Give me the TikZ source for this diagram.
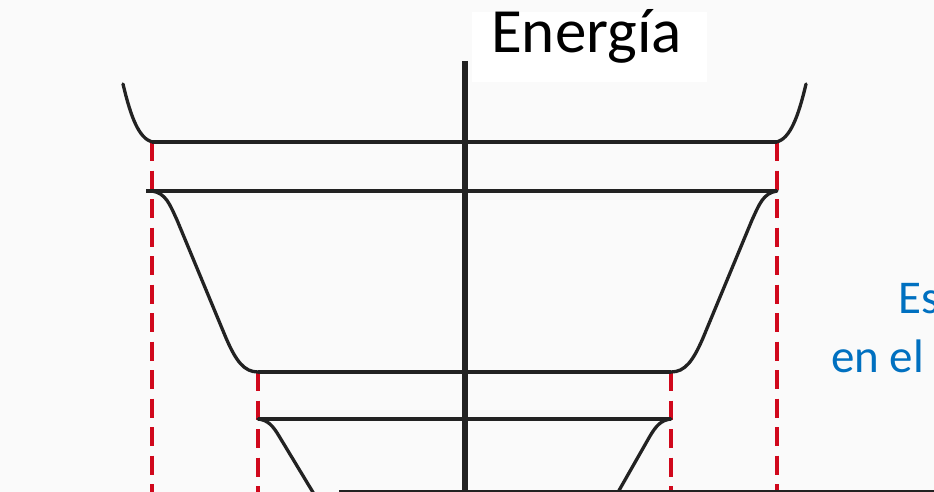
\documentclass[tikz,border=0pt]{standalone}
\usepackage{fontspec}
\setmainfont{Carlito}
\usetikzlibrary{positioning}
\definecolor{bggray}{RGB}{250,250,250}
\definecolor{wellblack}{RGB}{34,34,34}
\definecolor{guidered}{RGB}{208,8,28}
\definecolor{noteblue}{RGB}{0,112,192}

\begin{document}
\begin{tikzpicture}[
    x=1pt, y=-1pt,
    well/.style={draw=wellblack, line width=3.3pt, line cap=round, line join=round},
    level/.style={draw=wellblack, line width=4pt},
    guide/.style={draw=guidered, line width=3.3pt, dash pattern=on 19pt off 9.5pt},
    axisline/.style={draw=wellblack, line width=6.5pt},
    note/.style={anchor=base west, inner sep=0pt, text=noteblue,
                 font=\fontsize{47}{52}\selectfont}
]
  \useasboundingbox (0,0) rectangle (934,492);
  \clip (0,0) rectangle (934,492);
  \fill[bggray] (0,0) rectangle (934,492);
  \fill[white] (472,12) rectangle (707,82);

  % energy axis and title
  \draw[axisline] (465,61) -- (465,492);
  \node[anchor=base west, inner sep=0pt, font=\fontsize{63}{70}\selectfont]
        (title) at (491,53) {Energía};

  % red guides from the level ends
  \draw[guide] (152,142) -- (152,492);
  \draw[guide] (777,142) -- (777,492);
  \draw[guide] (258,372) -- (258,492);
  \draw[guide] (671,372) -- (671,492);

  % levels
  \draw[level] (152,142) -- (777,142);
  \draw[level] (146,191) -- (777,191);
  \draw[level] (258,372) -- (671,372);
  \draw[level] (258,419) -- (671,419);

  % walls of the well
  \draw[well] (123,84) .. controls (131,118) and (139,138) .. (152,142);
  \draw[well] (777,142) .. controls (790,138) and (798,118) .. (806,84);
  \draw[well] (152,191) .. controls (166,193) and (170,205) .. (177,220)
              -- (226,338) .. controls (236,361) and (244,372) .. (258,372);
  \draw[well] (777,191) .. controls (763,193) and (759,205) .. (752,220)
              -- (703,338) .. controls (693,361) and (685,372) .. (671,372);
  \draw[well] (258,419) .. controls (268,420) and (273,426) .. (279,436)
              -- (314,494);
  \draw[well] (671,419) .. controls (661,420) and (656,426) .. (650,436)
              -- (617,494);

  % baseline
  \draw[wellblack, line width=1.8pt] (339,491) -- (934,491);

  % side note
  \node[note] (noteA) at (898,313) {Es};
  \node[note] (noteB) at (831,372) {en el};
\end{tikzpicture}
\end{document}
